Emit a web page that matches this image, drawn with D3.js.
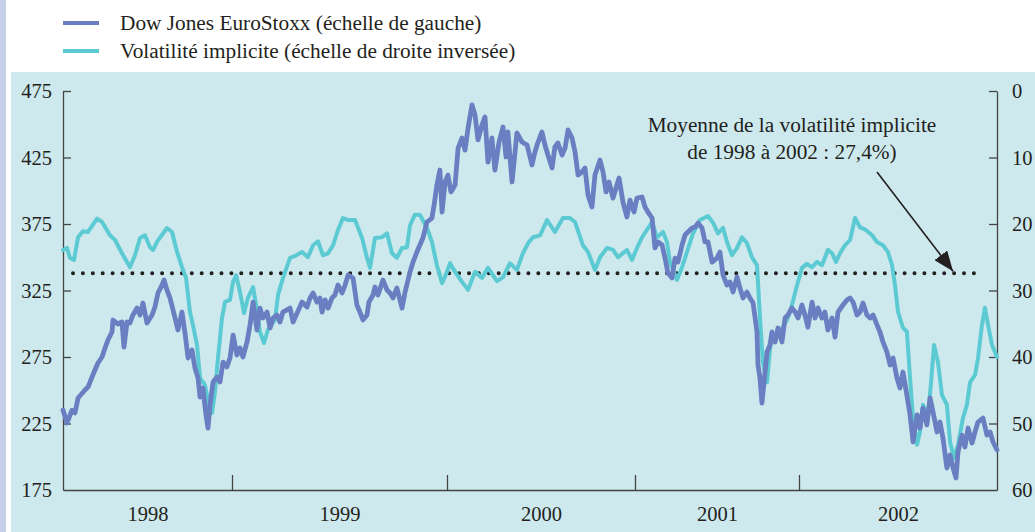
<!DOCTYPE html>
<html>
<head>
<meta charset="utf-8">
<script src="https://cdn.jsdelivr.net/npm/d3@7"></script>
<style>
  body { margin: 0; background: #fff; }
  svg { display: block; font-family: "Liberation Serif", "Times New Roman", serif; }
</style>
</head>
<body>
<svg id="chart" width="1035" height="532"></svg>
<script>
// Data (x = fractional year)
const years = [1998, 1999, 2000, 2001, 2002];
const leftTicks = [175, 225, 275, 325, 375, 425, 475];
const rightTicks = [0, 10, 20, 30, 40, 50, 60];
const avgVol = 27.4;

// Dow Jones EuroStoxx index (left scale)
const euroStoxx = [
  [1998.000, 235.1], [1998.024, 225.4], [1998.053, 235.0], [1998.071, 232.9], [1998.089, 244.2],
  [1998.130, 250.2], [1998.148, 252.4], [1998.172, 260.0], [1998.189, 265.2], [1998.207, 270.5],
  [1998.231, 275.0], [1998.249, 281.8], [1998.266, 287.8], [1998.290, 293.8], [1998.296, 302.8],
  [1998.325, 299.8], [1998.349, 301.3], [1998.361, 282.5], [1998.379, 301.3], [1998.396, 300.6],
  [1998.414, 306.6], [1998.438, 311.8], [1998.456, 306.6], [1998.473, 315.6], [1998.497, 300.6],
  [1998.527, 306.6], [1998.544, 312.6], [1998.562, 323.1], [1998.586, 329.1], [1998.598, 332.9],
  [1998.615, 325.4], [1998.633, 319.4], [1998.663, 304.3], [1998.680, 295.3], [1998.704, 308.8],
  [1998.722, 293.0], [1998.740, 274.2], [1998.763, 280.3], [1998.781, 266.7], [1998.799, 259.2],
  [1998.811, 244.9], [1998.828, 251.7], [1998.846, 231.4], [1998.858, 221.6], [1998.870, 238.9],
  [1998.888, 256.2], [1998.911, 260.0], [1998.929, 256.2], [1998.947, 271.2], [1998.970, 267.5],
  [1998.988, 274.2],
  [1999.005, 291.5], [1999.023, 276.5], [1999.037, 281.8], [1999.051, 275.0], [1999.070, 286.3],
  [1999.084, 299.1], [1999.098, 316.3], [1999.116, 295.3], [1999.130, 311.8], [1999.144, 304.3],
  [1999.163, 308.8], [1999.177, 296.8], [1999.191, 304.3], [1999.209, 306.6], [1999.223, 301.3],
  [1999.237, 308.8], [1999.270, 311.8], [1999.284, 301.3], [1999.307, 309.6], [1999.326, 316.3],
  [1999.349, 312.6], [1999.363, 319.4], [1999.377, 323.1], [1999.395, 316.3], [1999.409, 319.4],
  [1999.419, 308.8], [1999.433, 317.9], [1999.447, 311.8], [1999.465, 319.4], [1999.479, 321.6],
  [1999.493, 329.1], [1999.512, 323.1], [1999.526, 329.1], [1999.540, 336.6], [1999.563, 334.4],
  [1999.581, 314.1], [1999.595, 308.8], [1999.609, 302.8], [1999.628, 306.6], [1999.637, 316.3],
  [1999.656, 321.6], [1999.665, 327.6], [1999.679, 321.6], [1999.702, 332.9], [1999.721, 325.4],
  [1999.735, 323.1], [1999.749, 319.4], [1999.767, 326.9], [1999.791, 311.8], [1999.805, 323.9],
  [1999.828, 338.9], [1999.842, 346.4], [1999.860, 353.9], [1999.874, 359.2], [1999.888, 364.5],
  [1999.907, 376.5], [1999.930, 379.5], [1999.940, 389.3], [1999.953, 404.3], [1999.967, 415.6],
  [1999.977, 384.0], [1999.991, 406.6],
  [2000.005, 411.8], [2000.021, 399.1], [2000.043, 404.3], [2000.059, 432.1], [2000.080, 439.7],
  [2000.096, 430.6], [2000.112, 447.2], [2000.133, 464.5], [2000.149, 457.0], [2000.165, 438.2],
  [2000.186, 449.4], [2000.202, 455.5], [2000.218, 421.6], [2000.239, 439.7], [2000.255, 415.6],
  [2000.277, 436.7], [2000.298, 447.9], [2000.314, 425.4], [2000.324, 444.2], [2000.346, 406.6],
  [2000.372, 443.4], [2000.399, 436.7], [2000.426, 434.4], [2000.452, 419.4], [2000.468, 429.1],
  [2000.479, 434.4], [2000.505, 444.2], [2000.521, 434.4], [2000.537, 426.9], [2000.559, 417.1],
  [2000.574, 432.9], [2000.590, 435.9], [2000.612, 426.9], [2000.628, 432.1], [2000.644, 445.7],
  [2000.665, 439.7], [2000.681, 429.1], [2000.697, 411.8], [2000.718, 414.1], [2000.734, 417.1],
  [2000.750, 396.8], [2000.771, 387.8], [2000.787, 411.8], [2000.814, 423.1], [2000.830, 414.1],
  [2000.846, 399.1], [2000.862, 406.6], [2000.883, 394.5], [2000.899, 402.1], [2000.915, 409.6],
  [2000.936, 391.5], [2000.957, 380.3], [2000.973, 393.0], [2000.995, 384.0],
  [2001.012, 394.5], [2001.043, 395.3], [2001.061, 387.8], [2001.079, 384.0], [2001.104, 379.5],
  [2001.122, 357.0], [2001.140, 361.5], [2001.165, 359.2], [2001.183, 349.4], [2001.201, 338.2],
  [2001.226, 334.4], [2001.244, 349.4], [2001.262, 346.4], [2001.287, 359.2], [2001.305, 366.7],
  [2001.323, 369.0], [2001.348, 372.0], [2001.366, 372.7], [2001.384, 375.7], [2001.409, 372.0],
  [2001.427, 361.5], [2001.445, 361.5], [2001.470, 346.4], [2001.500, 349.4], [2001.518, 353.9],
  [2001.537, 336.6], [2001.561, 329.1], [2001.579, 331.4], [2001.598, 323.9], [2001.622, 335.1],
  [2001.640, 326.9], [2001.659, 319.4], [2001.683, 323.9], [2001.701, 319.4], [2001.720, 315.6],
  [2001.744, 293.8], [2001.750, 269.0], [2001.762, 259.2], [2001.774, 240.4], [2001.793, 263.7],
  [2001.805, 278.8], [2001.823, 284.0], [2001.835, 293.8], [2001.854, 286.3], [2001.872, 296.8],
  [2001.896, 286.3], [2001.915, 304.3], [2001.933, 306.6], [2001.957, 311.8], [2001.976, 308.8],
  [2001.994, 304.3],
  [2002.015, 314.1], [2002.030, 306.6], [2002.045, 297.5], [2002.066, 316.3], [2002.081, 304.3],
  [2002.096, 311.8], [2002.116, 304.3], [2002.131, 308.8], [2002.146, 295.3], [2002.167, 304.3],
  [2002.182, 290.0], [2002.197, 308.8], [2002.222, 314.1], [2002.242, 317.9], [2002.258, 319.4],
  [2002.273, 316.3], [2002.293, 306.6], [2002.308, 308.8], [2002.323, 315.6], [2002.343, 306.6],
  [2002.359, 304.3], [2002.374, 306.6], [2002.394, 299.1], [2002.409, 293.8], [2002.424, 286.3],
  [2002.444, 278.8], [2002.460, 269.0], [2002.475, 274.2], [2002.495, 259.2], [2002.510, 251.7],
  [2002.525, 263.7], [2002.545, 246.4], [2002.561, 231.4], [2002.576, 211.1], [2002.596, 231.4],
  [2002.611, 221.6], [2002.626, 236.6], [2002.646, 223.9], [2002.662, 244.2], [2002.677, 233.6],
  [2002.697, 218.6], [2002.712, 226.1], [2002.727, 214.1], [2002.747, 191.5], [2002.763, 201.3],
  [2002.778, 191.5], [2002.793, 184.0], [2002.803, 203.6], [2002.823, 216.3], [2002.838, 207.3],
  [2002.854, 221.6], [2002.874, 210.3], [2002.889, 218.6], [2002.904, 226.1], [2002.929, 229.1],
  [2002.949, 216.3], [2002.965, 218.6], [2002.980, 211.1], [2003.000, 205.1]
];

// Implied volatility in % (right scale, inverted)
const volatility = [
  [1998.000, 23.9], [1998.024, 23.6], [1998.041, 25.1], [1998.065, 25.4], [1998.089, 22.0],
  [1998.118, 21.1], [1998.148, 21.2], [1998.201, 19.2], [1998.231, 19.7], [1998.278, 21.7],
  [1998.308, 22.4], [1998.349, 24.4], [1998.396, 26.5], [1998.426, 24.7], [1998.456, 22.1],
  [1998.485, 21.7], [1998.515, 23.5], [1998.533, 23.9], [1998.556, 22.7], [1998.615, 20.6],
  [1998.645, 21.2], [1998.675, 24.2], [1998.704, 26.5], [1998.728, 28.1], [1998.751, 33.2],
  [1998.769, 35.2], [1998.793, 38.2], [1998.811, 43.2], [1998.840, 44.2], [1998.858, 46.5],
  [1998.882, 48.4], [1998.899, 45.3], [1998.917, 40.2], [1998.941, 34.1], [1998.959, 31.7],
  [1998.988, 31.4],
  [1999.005, 28.7], [1999.019, 27.7], [1999.037, 30.2], [1999.056, 33.4], [1999.074, 31.1],
  [1999.098, 29.5], [1999.112, 32.2], [1999.130, 36.2], [1999.149, 37.9], [1999.167, 35.9],
  [1999.200, 34.4], [1999.214, 30.7], [1999.237, 28.1], [1999.270, 25.1], [1999.293, 24.8],
  [1999.326, 24.2], [1999.353, 25.0], [1999.377, 23.2], [1999.400, 22.6], [1999.423, 24.7],
  [1999.447, 24.4], [1999.470, 23.2], [1999.493, 20.9], [1999.516, 19.1], [1999.540, 19.4],
  [1999.572, 19.4], [1999.605, 22.1], [1999.628, 25.1], [1999.642, 26.6], [1999.665, 22.1],
  [1999.698, 22.0], [1999.721, 21.4], [1999.744, 24.4], [1999.767, 25.1], [1999.791, 23.6],
  [1999.814, 23.5], [1999.828, 20.2], [1999.851, 18.6], [1999.874, 18.6], [1999.907, 20.6],
  [1999.930, 22.7], [1999.953, 26.2], [1999.977, 28.9],
  [2000.000, 27.2], [2000.016, 25.9], [2000.043, 27.2], [2000.080, 28.7], [2000.112, 29.9],
  [2000.149, 27.2], [2000.186, 28.1], [2000.218, 26.6], [2000.266, 28.6], [2000.298, 28.0],
  [2000.335, 25.9], [2000.372, 26.9], [2000.404, 24.4], [2000.431, 22.9], [2000.457, 22.0],
  [2000.495, 21.7], [2000.532, 19.4], [2000.574, 21.2], [2000.617, 19.1], [2000.654, 19.1],
  [2000.681, 19.7], [2000.723, 23.2], [2000.750, 24.2], [2000.787, 26.9], [2000.814, 25.0],
  [2000.851, 23.6], [2000.883, 23.9], [2000.910, 25.0], [2000.957, 23.9], [2000.984, 25.4],
  [2001.012, 23.6], [2001.043, 22.0], [2001.104, 19.7], [2001.134, 22.0], [2001.171, 21.2],
  [2001.195, 22.7], [2001.213, 25.7], [2001.256, 28.4], [2001.287, 26.5], [2001.317, 24.2],
  [2001.354, 21.4], [2001.396, 19.4], [2001.445, 18.8], [2001.476, 19.8], [2001.506, 21.4],
  [2001.537, 20.6], [2001.561, 22.7], [2001.591, 24.7], [2001.622, 23.6], [2001.652, 22.0],
  [2001.683, 22.9], [2001.713, 25.0], [2001.744, 26.2], [2001.762, 34.1], [2001.780, 40.8],
  [2001.805, 43.8], [2001.823, 38.9], [2001.835, 36.7], [2001.854, 37.1], [2001.884, 36.2],
  [2001.927, 34.4], [2001.957, 32.2], [2001.988, 29.2],
  [2002.015, 26.6], [2002.040, 26.0], [2002.066, 26.5], [2002.091, 25.7], [2002.116, 26.2],
  [2002.146, 23.9], [2002.167, 24.4], [2002.187, 25.7], [2002.207, 24.4], [2002.232, 23.2],
  [2002.258, 22.4], [2002.283, 19.1], [2002.308, 20.5], [2002.333, 20.8], [2002.369, 21.7],
  [2002.394, 22.7], [2002.424, 23.2], [2002.449, 24.2], [2002.470, 26.2], [2002.485, 29.2],
  [2002.500, 33.2], [2002.525, 35.6], [2002.545, 36.2], [2002.561, 43.2], [2002.576, 49.2],
  [2002.596, 53.2], [2002.611, 51.3], [2002.626, 47.2], [2002.652, 48.7], [2002.667, 43.8],
  [2002.682, 38.2], [2002.702, 40.8], [2002.722, 45.7], [2002.747, 47.2], [2002.763, 52.8],
  [2002.783, 55.2], [2002.803, 53.2], [2002.828, 49.2], [2002.848, 47.2], [2002.864, 43.8],
  [2002.889, 42.7], [2002.904, 40.2], [2002.924, 35.2], [2002.939, 32.6], [2002.955, 35.2],
  [2002.975, 38.2], [2003.000, 40.0]
];

const legendLabels = ["Dow Jones EuroStoxx (échelle de gauche)", "Volatilité implicite (échelle de droite inversée)"];
const noteLines = ["Moyenne de la volatilité implicite", "de 1998 à 2002 : 27,4%)"];

// Layout
const blue = "#6a7fc2";
const cyan = "#5ccad2";
const ink = "#231f20";
const plot = { left: 63, right: 997, top: 91, bottom: 490 };

const svg = d3.select("#chart");

// background: lavender strip + blue panel
svg.append("rect").attr("x", 0).attr("y", 0).attr("width", 6).attr("height", 532).attr("fill", "#c8cfea");
svg.append("rect").attr("x", 11).attr("y", 72).attr("width", 1024).attr("height", 460).attr("fill", "#cde9ed");

// scales (the year bands on this chart are not equal widths)
const x = d3.scaleLinear()
    .domain([1998, 1999, 2000, 2001, 2002, 2003])
    .range([plot.left, 232, 447, 635, 799, plot.right]);
const yLeft = d3.scaleLinear().domain([175, 475]).range([plot.bottom, plot.top]);
const yRight = d3.scaleLinear().domain([60, 0]).range([plot.bottom, plot.top]);

// axes
const leftAxis = svg.append("g")
    .attr("transform", "translate(" + plot.left + ",0)")
    .call(d3.axisLeft(yLeft).tickValues(leftTicks).tickSize(-8).tickSizeOuter(0).tickPadding(11));
const rightAxis = svg.append("g")
    .attr("transform", "translate(" + plot.right + ",0)")
    .call(d3.axisRight(yRight).tickValues(rightTicks).tickSize(-8).tickSizeOuter(0).tickPadding(15));
const bottomAxis = svg.append("g")
    .attr("transform", "translate(0," + plot.bottom + ")")
    .call(d3.axisBottom(x).tickValues(years.slice(1)).tickSize(-15).tickSizeOuter(0).tickFormat(""));
const yearLabels = svg.append("g")
    .attr("transform", "translate(0," + plot.bottom + ")")
    .call(d3.axisBottom(x).tickValues(years.map(d => d + 0.5)).tickSize(0).tickPadding(16).tickFormat(d => Math.floor(d)));
yearLabels.select(".domain").remove();
yearLabels.selectAll("line").remove();

[leftAxis, rightAxis, bottomAxis, yearLabels].forEach(g => {
  g.attr("font-family", null).attr("font-size", null);
  g.selectAll("text").attr("font-size", 20.5).attr("fill", ink);
  g.selectAll(".domain").attr("stroke", "#444").attr("stroke-width", 1.3);
  g.selectAll(".tick line").attr("stroke", "#444").attr("stroke-width", 1.3);
});
// drop the 60 / 175 ticks on the bottom line
leftAxis.selectAll(".tick line").filter(d => d === 175).remove();
rightAxis.selectAll(".tick line").filter(d => d === 60).remove();

// average volatility dotted line
svg.append("line")
    .attr("x1", 73).attr("x2", 983)
    .attr("y1", yRight(avgVol)).attr("y2", yRight(avgVol))
    .attr("stroke", ink).attr("stroke-width", 4)
    .attr("stroke-linecap", "round")
    .attr("stroke-dasharray", "0 9.9");

// series
const lineLeft = d3.line().x(d => x(d[0])).y(d => yLeft(d[1]));
const lineRight = d3.line().x(d => x(d[0])).y(d => yRight(d[1]));

svg.append("path").datum(volatility)
    .attr("d", lineRight)
    .attr("fill", "none").attr("stroke", cyan).attr("stroke-width", 4)
    .attr("stroke-linejoin", "round").attr("stroke-linecap", "round");

svg.append("path").datum(euroStoxx)
    .attr("d", lineLeft)
    .attr("fill", "none").attr("stroke", blue).attr("stroke-width", 4.8)
    .attr("stroke-linejoin", "round").attr("stroke-linecap", "round");

// annotation + arrow
svg.append("defs").append("marker")
    .attr("id", "head")
    .attr("viewBox", "0 0 20 16")
    .attr("refX", 20).attr("refY", 8)
    .attr("markerWidth", 20).attr("markerHeight", 16)
    .attr("markerUnits", "userSpaceOnUse")
    .attr("orient", "auto")
  .append("path").attr("d", "M0,0 L20,8 L0,16 Z").attr("fill", ink);

svg.append("line")
    .attr("x1", 877).attr("y1", 172)
    .attr("x2", 953).attr("y2", yRight(avgVol) - 2)
    .attr("stroke", ink).attr("stroke-width", 1.6)
    .attr("marker-end", "url(#head)");

svg.append("g").selectAll("text")
    .data(noteLines)
    .join("text")
    .attr("x", 792)
    .attr("y", (d, i) => 132 + i * 27)
    .attr("text-anchor", "middle")
    .attr("font-size", 21.3)
    .attr("fill", ink)
    .text(d => d);

// legend
const legend = svg.append("g");
const legendColors = [blue, cyan];
legendLabels.forEach((label, i) => {
  const yPos = 23 + i * 28;
  legend.append("line")
      .attr("x1", 63).attr("x2", 99)
      .attr("y1", yPos).attr("y2", yPos)
      .attr("stroke", legendColors[i]).attr("stroke-width", 4);
  legend.append("text")
      .attr("x", 120).attr("y", yPos + 7)
      .attr("font-size", 21.3)
      .attr("fill", ink)
      .text(label);
});
</script>
</body>
</html>
